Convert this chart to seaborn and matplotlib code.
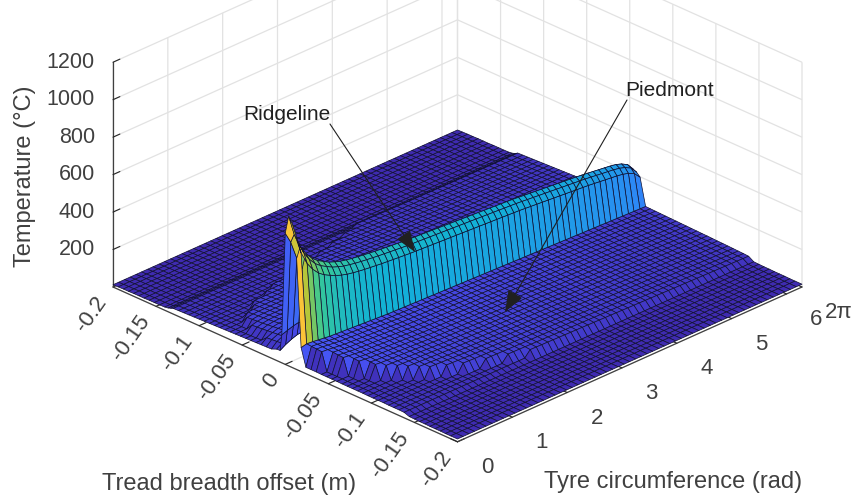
import numpy as np
import matplotlib
matplotlib.use("Agg")
import matplotlib.pyplot as plt
import seaborn as sns
from mpl_toolkits.mplot3d import proj3d

sns.set_style("white")
plt.rcParams['font.family'] = ['Liberation Sans', 'DejaVu Sans']

INK = '#404040'
GRID = '#e2e2e2'

# circumference stations (rad)
theta_rad = [0.00,0.10,0.21,0.31,0.42,0.52,0.63,0.73,0.84,0.94,1.05,1.15,1.26,1.36,1.47,1.57,1.68,1.78,1.88,1.99,
             2.09,2.20,2.30,2.41,2.51,2.62,2.72,2.83,2.93,3.04,3.14,3.25,3.35,3.46,3.56,3.67,3.77,3.87,3.98,4.08,
             4.19,4.29,4.40,4.50,4.61,4.71,4.82,4.92,5.03,5.13,5.24,5.34,5.45,5.55,5.65,5.76,5.86,5.97,6.07,6.18,6.2832]

# breadth stations (m), left shoulder / ridge / right shoulder
x_left = [-0.200,-0.194,-0.188,-0.182,-0.176,-0.170,-0.164,-0.158,-0.152,-0.146,-0.140,-0.136,-0.133,-0.130,
          -0.124,-0.118,-0.112,-0.106,-0.100,-0.094,-0.088,-0.082,-0.076,-0.070,-0.064,-0.058,-0.052,-0.046,
          -0.040,-0.034,-0.028,-0.022,-0.016,-0.010,-0.006]
x_ridge = [-0.004,0.000,0.004,0.008,0.012,0.0184]
x_right = [0.024,0.030,0.036,0.042,0.048,0.054,0.060,0.066,0.072,0.078,0.084,0.090,0.096,0.102,0.108,
           0.114,0.120,0.126,0.132,0.138,0.144,0.150,0.156,0.162,0.168,0.174,0.180,0.186,0.192,0.200]

# temperature along the crest of the ridgeline
ridge_crest = [800,690,610,560,520,495,475,458,445,435,428,422,417,413,409,405,402,399,396,393,
               390,388,386,384,382,380,378,376,374,372,370,368,366,364,362,360,358,356,354,352,
               349,346,343,340,337,334,331,328,325,322,319,316,312,308,304,300,296,290,280,262,225]
ridge_shoulder = [0.74,1.00,0.96,0.88]
fin_back_top = [700,640,540,470]
ridge_back_foot = [150,160,170,176,150,120,105,95,88,82,78,76,74,72,71,70,70,69,69,68,
                   68,68,67,67,67,66,66,66,65,65,65,65,64,64,64,64,63,63,63,63,
                   62,62,62,62,61,61,61,60,60,60,60,59,59,59,58,58,58,57,57,57,56]

# piedmont level at the foot of the ridge, and its edge
piedmont = [128,135,132,128,124,120,118,116,114,112,110,108,106,104,102,100,99,98,97,96,
            95,94,93,92,91,90,89,88,87,86,85,84,83,82,81,80,79,78,77,76,
            75,74,73,72,71,70,69,68,67,66,65,64,63,62,61,60,59,58,57,56,55]
piedmont_edge = [0.020,0.036,0.054,0.066,0.078,0.084,0.090,0.096,0.102,0.108,0.110,0.114,0.118,0.120,0.122,
                 0.124,0.126,0.128,0.130,0.132,0.134,0.136,0.138,0.138,0.138,0.138,0.138,0.138,0.138,0.138,
                 0.138,0.138,0.138,0.138,0.138,0.138,0.138,0.138,0.138,0.138,0.138,0.138,0.138,0.138,0.138,
                 0.138,0.138,0.138,0.138,0.138,0.138,0.138,0.138,0.138,0.138,0.138,0.138,0.138,0.138,0.138,0.138]
right_slope = [0.98,0.97,0.95,0.94,0.92,0.91,0.89,0.88,0.86,0.85,0.83,0.82,0.80,0.78,0.77,
               0.75,0.73,0.71,0.69,0.66,0,0,0,0,0,0,0,0,0,0]
right_base = [34,34,34,33,33,33,33,32,32,32,32,32,31,31,31,31,30,30,30,29,
              19,18,17,17,16,16,16,15,15,15]

# same on the far side of the ridge
left_shelf = [62,80,95,105,110,112,112,112,112,112,112,111,111,110,110,109,108,107,106,105,
              104,102,100,98,96,94,92,90,88,86,84,82,81,80,79,78,77,76,75,74,
              73,72,71,70,70,69,69,68,68,67,67,66,66,66,65,65,65,64,64,64,64]
left_edge = [-0.012,-0.032,-0.056,-0.064,-0.070,-0.075,-0.079,-0.082,-0.085,-0.087,-0.090,-0.092,-0.094,-0.096,-0.097,
             -0.098,-0.099,-0.100,-0.102,-0.104,-0.106,-0.108,-0.110,-0.112,-0.114,-0.116,-0.118,-0.120,-0.122,-0.124,
             -0.126,-0.128,-0.130,-0.130,-0.130,-0.130,-0.130,-0.130,-0.130,-0.130,-0.130,-0.130,-0.130,-0.130,-0.130,
             -0.130,-0.130,-0.130,-0.130,-0.130,-0.130,-0.130,-0.130,-0.130,-0.130,-0.130,-0.130,-0.130,-0.130,-0.130,-0.130]
left_slope = [0,0,0,0,0,0,0,0,0,0,0,0,0,0.52,0.54,0.56,0.58,0.60,0.62,0.64,0.66,0.68,0.70,0.72,0.74,0.76,0.78,0.80,
              0.83,0.86,0.89,0.92,0.95,0.98,1.00]
left_base = [12,13,14,14,15,15,15,16,16,16,17,20,25,30,31,32,33,34,35,36,37,38,39,40,41,42,43,44,45,46,47,48,49,50,52]

# parula
parula_colors = [(0.2422,0.1504,0.6603),(0.2810,0.3228,0.9579),(0.1786,0.5289,0.9682),(0.0689,0.6948,0.8394),
                 (0.2161,0.7843,0.5923),(0.6720,0.7793,0.2227),(0.9970,0.7659,0.2199),(0.9769,0.9839,0.0805)]
parula = sns.blend_palette(parula_colors, as_cmap=True)

x_all = x_left + x_ridge + x_right
rows = []
for i in range(len(theta_rad)):
    row = []
    for j, x in enumerate(x_left):
        t = left_base[j]
        if x >= left_edge[i]:
            t = max(t, left_shelf[i] * left_slope[j])
        row.append(t)
    row.append(ridge_back_foot[i])
    for f in ridge_shoulder:
        row.append(ridge_crest[i] * f)
    if i < len(fin_back_top):
        row[len(x_left) + 1] = fin_back_top[i]
    row.append(piedmont[i])
    for j, x in enumerate(x_right):
        t = right_base[j]
        if x <= piedmont_edge[i]:
            t = max(t, piedmont[i] * right_slope[j])
        row.append(t)
    rows.append(row)
Z = np.array(rows, dtype=float)
X, Y = np.meshgrid(x_all, theta_rad)

W, H = 857, 503
fig = plt.figure(figsize=(W / 100, H / 100), dpi=100)
ax = fig.add_axes([0, 0, 700 / W, 700 / H], projection='3d', computed_zorder=False)
ax.set_proj_type('ortho')
ax.view_init(elev=26.7, azim=-45)
ax.set_box_aspect((488, 488, 252))
ax.set_xlim(-0.2, 0.2, view_margin=0)
ax.set_ylim(0, 2 * np.pi, view_margin=0)
ax.set_zlim(0, 1200, view_margin=0)

face = parula(np.clip(Z / 830, 0, 1))
surf = ax.plot_surface(X, Y, Z, facecolors=face, rstride=1, cstride=1, shade=False, antialiased=True)
surf.set_edgecolor('#101030')
surf.set_linewidth(0.5)

ax.set_xticks([-0.2,-0.15,-0.1,-0.05,0,0.05,0.1,0.15,0.2])
ax.set_xticklabels(['-0.2','-0.15','-0.1','-0.05','0','-0.05','-0.1','-0.15','-0.2'], rotation=55, fontsize=16, color=INK)
ax.set_yticks([0,1,2,3,4,5,6,2*np.pi])
ax.set_yticklabels(['0','1','2','3','4','5','6','2π'], fontsize=16, color=INK)
ax.set_zticks([200,400,600,800,1000,1200])
ax.set_zticklabels(['200','400','600','800','1000','1200'], fontsize=15.5, color=INK)
ax.zaxis.set_ticks_position('lower')
ax.tick_params(axis='x', pad=0)
ax.tick_params(axis='y', pad=10)
ax.tick_params(axis='z', pad=-1)

for axis in (ax.xaxis, ax.yaxis, ax.zaxis):
    axis.set_pane_color((1, 1, 1, 0))
    axis.pane.set_edgecolor(GRID)
    axis.line.set_color(INK)
    axis.line.set_linewidth(0.9)
    axis._axinfo['grid'].update(color=GRID, linewidth=0.9)
    axis._axinfo['tick'].update(inward_factor=0.0, outward_factor=0.25)
    axis._axinfo['tick']['linewidth'] = {True: 0.8, False: 0.5}
    axis._axinfo['tick']['color'] = INK


def corner_px(x, y, z):
    a, b, _ = proj3d.proj_transform(x, y, z, ax.get_proj())
    return ax.transData.transform((a, b))


# fit the box onto the reference corners (px from bottom-left)
ax.apply_aspect()
p0 = corner_px(-0.2, 0, 0)
p1 = corner_px(0.2, 2 * np.pi, 0)
side = 700 * (802 - 113) / (p1[0] - p0[0])
ax.set_position([0, 0, side / W, side / H])
ax.apply_aspect()
p0 = corner_px(-0.2, 0, 0)
ax.set_position([(113 - p0[0]) / W, (H - 287 - p0[1]) / H, side / W, side / H])

# tick label alignment
for lab in ax.get_xticklabels():
    lab.set_ha('right')
    lab.set_va('center')
    lab.set_rotation_mode('anchor')
for lab in ax.get_yticklabels():
    lab.set_ha('left')
    lab.set_va('center')
for lab in ax.get_zticklabels():
    lab.set_ha('right')
    lab.set_va('center')

fig.text(25 / W, 1 - 176 / H, 'Temperature (°C)', rotation=90, ha='center', va='center', fontsize=17, color=INK)
fig.text(229 / W, 1 - 484 / H, 'Tread breadth offset (m)', ha='center', va='center', fontsize=17, color=INK)
fig.text(673 / W, 1 - 482 / H, 'Tyre circumference (rad)', ha='center', va='center', fontsize=17, color=INK)

arrow = dict(arrowstyle='-|>,head_length=0.95,head_width=0.36', color='#202020', lw=0.8, shrinkA=0, shrinkB=0, mutation_scale=14)
ax.annotate('', xy=(415, H - 252), xytext=(330, H - 124), xycoords='figure pixels', textcoords='figure pixels', arrowprops=arrow)
ax.annotate('', xy=(505, H - 312), xytext=(627, H - 100), xycoords='figure pixels', textcoords='figure pixels', arrowprops=arrow)
fig.text(287 / W, 1 - 114 / H, 'Ridgeline', ha='center', va='center', fontsize=15, color='#202020')
fig.text(670 / W, 1 - 90 / H, 'Piedmont', ha='center', va='center', fontsize=15, color='#202020')

fig.savefig('out.png', dpi=100)
